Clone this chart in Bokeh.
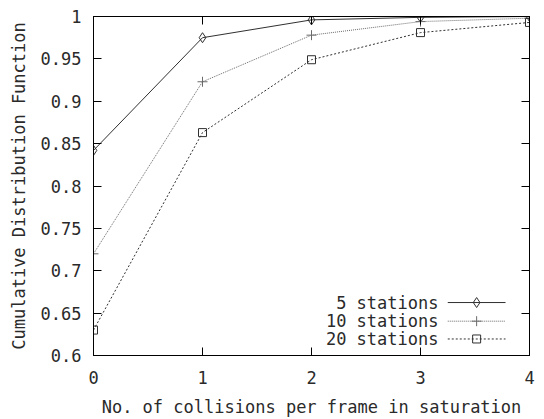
from bokeh.plotting import figure
from bokeh.models import LinearAxis, FixedTicker, CustomJSTickFormatter, Range1d, Label
from bokeh.embed import file_html
from bokeh.resources import INLINE

# ---- data ----
collisions = [0, 1, 2, 3, 4]
cdf_5 = [0.842, 0.975, 0.996, 0.999, 1.0]
cdf_10 = [0.720, 0.923, 0.978, 0.994, 0.998]
cdf_20 = [0.630, 0.863, 0.949, 0.981, 0.993]
series_labels = ["5 stations", "10 stations", "20 stations"]
x_ticks = [0, 1, 2, 3, 4]
y_ticks = [0.6, 0.65, 0.7, 0.75, 0.8, 0.85, 0.9, 0.95, 1.0]
x_title = "No. of collisions per frame in saturation"
y_title = "Cumulative Distribution Function"

FONT = "DejaVu Sans Mono"
FS = "17px"
INK = "#2a2a2a"

p = figure(width=544, height=419, output_backend="svg", toolbar_location=None,
           x_range=Range1d(0, 4), y_range=Range1d(0.6, 1.0),
           min_border_left=93, min_border_right=15, min_border_top=16,
           min_border_bottom=57, x_axis_location=None, y_axis_location=None)
p.grid.visible = False
p.outline_line_color = "black"
p.outline_line_width = 1
p.background_fill_color = "white"
p.border_fill_color = "white"

fmt = CustomJSTickFormatter(code="return String(Math.round(tick*100)/100);")
blank = CustomJSTickFormatter(code="return '';")

def style(ax, show_labels):
    ax.major_tick_in = 8
    ax.major_tick_out = 0
    ax.minor_tick_in = 0
    ax.minor_tick_out = 0
    ax.axis_line_color = "black"
    ax.major_tick_line_color = "black"
    ax.major_label_text_font = FONT
    ax.major_label_text_font_size = FS
    ax.major_label_text_color = INK
    ax.major_label_text_font_style = "normal"
    ax.axis_label_text_font = FONT
    ax.axis_label_text_font_size = FS
    ax.axis_label_text_font_style = "normal"
    ax.axis_label_text_color = INK
    ax.formatter = fmt if show_labels else blank
    if not show_labels:
        ax.major_label_standoff = 0

xb = LinearAxis(ticker=FixedTicker(ticks=x_ticks), axis_label=x_title)
style(xb, True)
xb.major_label_standoff = 15
xb.axis_label_standoff = 10
yl = LinearAxis(ticker=FixedTicker(ticks=y_ticks), axis_label=y_title)
style(yl, True)
yl.major_label_standoff = 12
yl.axis_label_standoff = 9
xt = LinearAxis(ticker=FixedTicker(ticks=x_ticks))
style(xt, False)
yr = LinearAxis(ticker=FixedTicker(ticks=y_ticks))
style(yr, False)
p.add_layout(xb, "below")
p.add_layout(yl, "left")
p.add_layout(xt, "above")
p.add_layout(yr, "right")

series = [
    (cdf_5, "#303030", "solid", "diamond", 10),
    (cdf_10, "#6a6a6a", "1 1", "cross", 10),
    (cdf_20, "#303030", "2 2", "square", 8),
]

# legend layout (positions in data space, styling only)
LEG_TEXT_X = 3.165
LEG_LINE_X = [3.25, 3.78]
LEG_MARK_X = 3.515
LEG_Y = [0.6625, 0.6405, 0.6195]

for (vals, col, dash, marker, size), lab, ly in zip(series, series_labels, LEG_Y):
    p.line(collisions, vals, line_color=col, line_dash=dash, line_width=1)
    p.scatter(collisions, vals, marker=marker, size=size, line_color=col,
              fill_color=None, line_width=1)
    p.line(LEG_LINE_X, [ly, ly], line_color=col, line_dash=dash, line_width=1)
    p.scatter([LEG_MARK_X], [ly], marker=marker, size=size, line_color=col,
              fill_color=None, line_width=1)
    p.add_layout(Label(x=LEG_TEXT_X, y=ly, text=lab, text_align="right",
                       text_baseline="middle", text_font=FONT,
                       text_font_size=FS, text_color=INK))

open("out.html", "w").write(file_html(p, INLINE))
